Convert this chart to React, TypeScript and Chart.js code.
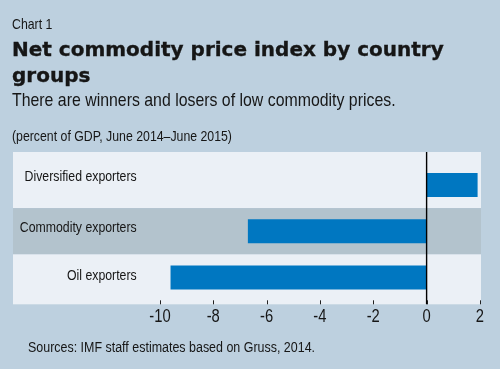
import React, { useEffect, useRef } from "react";
import { Chart, registerables } from "chart.js";

Chart.register(...registerables);

const categories = ["Diversified exporters", "Commodity exporters", "Oil exporters"];
const values = [1.9, -6.69, -9.59];
const tickValues = [-10, -8, -6, -4, -2, 0, 2];

const SANS = '"Liberation Sans", Arial, sans-serif';
const SQUEEZE = 0.82;
const BG = "#bdd0df";
const BAND_LIGHT = "#ebf0f6";
const BAND_GREY = "#b3c3cd";
const BAR = "#0077c1";
const TEXT = "#161616";

function narrowText(ctx: any, text: string, x: number, y: number, align: "left" | "right" | "center") {
  ctx.save();
  ctx.translate(x, y);
  ctx.scale(SQUEEZE, 1);
  ctx.textAlign = align;
  ctx.fillText(text, 0, 0);
  ctx.restore();
}

const panelPlugin = {
  id: "panel",
  beforeDatasetsDraw(chart: any) {
    const { ctx, chartArea } = chart;
    const y = chart.scales.y;
    const x = chart.scales.x;
    ctx.save();
    const bands = categories.map((_, i) => {
      let top = y.getPixelForValue(i - 0.5);
      let bottom = y.getPixelForValue(i + 0.5);
      if (i === 0) top = chartArea.top;
      if (i === categories.length - 1) bottom = chartArea.bottom;
      return [top, bottom];
    });
    bands.forEach(([top, bottom], i) => {
      ctx.fillStyle = i % 2 === 1 ? BAND_GREY : BAND_LIGHT;
      ctx.fillRect(chartArea.left, top, chartArea.right - chartArea.left, bottom - top);
    });
    // tick marks inside bottom edge
    ctx.strokeStyle = "#222";
    ctx.lineWidth = 1;
    x.ticks.forEach((t: any) => {
      const px = Math.round(x.getPixelForValue(t.value)) + 0.5;
      ctx.beginPath();
      ctx.moveTo(px, chartArea.bottom - 4);
      ctx.lineTo(px, chartArea.bottom);
      ctx.stroke();
    });
    // category labels
    ctx.fillStyle = TEXT;
    ctx.font = `15px ${SANS}`;
    ctx.textBaseline = "middle";
    categories.forEach((c, i) => {
      const [top, bottom] = bands[i];
      narrowText(ctx, c, chartArea.left + 123.7, (top + bottom) / 2 - 3, "right");
    });
    ctx.restore();
  },
  afterDatasetsDraw(chart: any) {
    const { ctx, chartArea } = chart;
    const x = chart.scales.x;
    const px = x.getPixelForValue(0);
    ctx.save();
    ctx.strokeStyle = "#000";
    ctx.lineWidth = 1.4;
    ctx.beginPath();
    ctx.moveTo(px, chartArea.top);
    ctx.lineTo(px, chartArea.bottom);
    ctx.stroke();
    // x tick labels (condensed)
    ctx.fillStyle = TEXT;
    ctx.font = `18px ${SANS}`;
    ctx.textBaseline = "alphabetic";
    x.ticks.forEach((t: any) => {
      narrowText(ctx, String(t.value), x.getPixelForValue(t.value), chartArea.bottom + 17.6, "center");
    });
    ctx.restore();
  },
};

function BarChart() {
  const ref = useRef<HTMLCanvasElement>(null);
  useEffect(() => {
    if (!ref.current) return;
    const chart = new Chart(ref.current, {
      type: "bar",
      data: {
        datasets: [
          {
            data: values.map((v, i) => ({ x: v, y: i })) as any,
            backgroundColor: BAR,
            borderWidth: 0,
            barThickness: 23.4,
          },
        ],
      },
      options: {
        indexAxis: "y",
        animation: false,
        responsive: false,
        devicePixelRatio: 1,
        layout: { padding: { left: 13, right: 19, top: 152, bottom: 0 } },
        plugins: { legend: { display: false }, tooltip: { enabled: false }, title: { display: false } },
        scales: {
          x: {
            type: "linear",
            min: -15.51,
            max: 2.04,
            offset: false,
            grid: { display: false, drawTicks: false },
            border: { display: false },
            afterBuildTicks: (scale: any) => {
              scale.ticks = tickValues.map((v) => ({ value: v }));
            },
            ticks: { display: false, autoSkip: false },
            afterFit: (scale: any) => {
              scale.height = 64.7;
            },
          },
          y: {
            type: "linear",
            display: false,
            offset: false,
            min: -0.714,
            max: 2.58,
            reverse: true,
          },
        },
      },
      plugins: [panelPlugin],
    });
    return () => chart.destroy();
  }, []);
  return <canvas ref={ref} width={500} height={369} style={{ position: "absolute", left: 0, top: 0 }} />;
}

export default function App() {
  const base: React.CSSProperties = {
    position: "absolute",
    left: 12,
    color: TEXT,
    whiteSpace: "nowrap",
    margin: 0,
    fontFamily: SANS,
    transform: `scaleX(${SQUEEZE})`,
    transformOrigin: "left top",
  };
  return (
    <div style={{ position: "fixed", left: 0, top: 0, width: 500, height: 369, background: BG, overflow: "hidden" }}>
      <BarChart />
      <div style={{ ...base, top: 15.6, fontSize: 15, lineHeight: "15px" }}>Chart 1</div>
      <div
        style={{
          ...base,
          transform: "none",
          top: 35.8,
          fontFamily: '"DejaVu Sans", sans-serif',
          fontWeight: 700,
          fontSize: 20,
          lineHeight: "26px",
          whiteSpace: "normal",
          width: 470,
          WebkitTextStroke: "0.35px " + TEXT,
        }}
      >
        Net commodity price index by country groups
      </div>
      <div style={{ ...base, top: 90, fontSize: 19, lineHeight: "19px", transform: "scaleX(0.835)" }}>
        There are winners and losers of low commodity prices.
      </div>
      <div style={{ ...base, top: 128.3, fontSize: 15, lineHeight: "15px" }}>
        (percent of GDP, June 2014–June 2015)
      </div>
      <div style={{ ...base, left: 28, top: 338.7, fontSize: 15.2, lineHeight: "15.2px" }}>
        Sources: IMF staff estimates based on Gruss, 2014.
      </div>
    </div>
  );
}
